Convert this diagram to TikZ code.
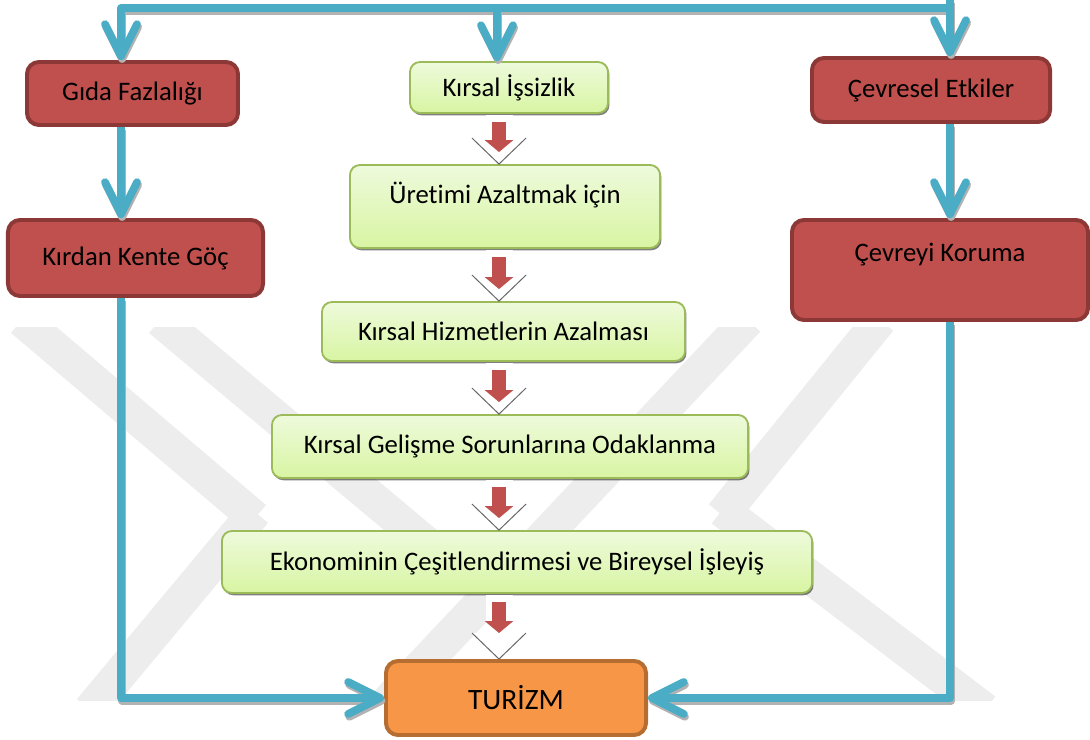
\documentclass[tikz,border=0pt]{standalone}
\usepackage{fontspec}
\setmainfont{Carlito}[Ligatures=NoCommon]
\usetikzlibrary{arrows.meta,shadows}

\definecolor{kirmizi}{HTML}{C0504D}
\definecolor{kirmizikenar}{HTML}{8C3836}
\definecolor{yesilkenar}{HTML}{9BBB59}
\definecolor{yesilust}{HTML}{EEFADC}
\definecolor{yesilalt}{HTML}{D8F5A2}
\definecolor{turuncu}{HTML}{F79646}
\definecolor{turuncukenar}{HTML}{B66D31}
\definecolor{mavi}{HTML}{4BACC6}

\tikzset{
  kutu/.style={rounded corners=0.3cm, align=center, inner sep=0pt,
    font=\fontsize{19}{23}\selectfont},
  kirmizikutu/.style={kutu, fill=kirmizi, draw=kirmizikenar, line width=2.8pt},
  yesilkutu/.style={kutu, rounded corners=0.25cm, top color=yesilust,
    bottom color=yesilalt, draw=yesilkenar, line width=1.3pt,
    drop shadow={shadow xshift=1pt, shadow yshift=-1.6pt, opacity=0.5, fill=black}},
  turuncukutu/.style={kutu, fill=turuncu, draw=turuncukenar, line width=2.8pt,
    font=\fontsize{21}{25}\selectfont},
  maviok/.style={draw=mavi, line width=5.5pt, line join=round,
    -{Straight Barb[round, length=0.8cm, width=0.8cm]}},
  maviokgolge/.style={maviok, draw=black!30,
    transform canvas={shift={(0.8pt,-2pt)}}},
  kirmiziok/.style={draw=kirmizi, line width=10pt,
    -{Triangle[length=0.3cm, width=0.7cm]}},
  beyazok/.style={draw=white, line width=0.675cm, shorten <=1pt},
  kenarcizgi/.style={draw=black!60, line width=0.7pt},
  filigran/.style={draw=black!7, line width=0.85cm}
}

\begin{document}
\begin{tikzpicture}[x=0.025cm, y=-0.025cm]
\useasboundingbox (0,0) rectangle (1090,740);

% filigran
\begin{scope}
\clip (0,328) rectangle (1090,700);
\draw[filigran] (22,320) -- (255,518);
\draw[filigran] (90,710) -- (255,512);
\draw[filigran] (160,320) -- (470,580);
\draw[filigran] (748,320) -- (380,710);
\draw[filigran] (880,320) -- (722,515);
\draw[filigran] (722,510) -- (985,710);
\end{scope}

% sol sutun
\node[kirmizikutu, minimum width=5.275cm, minimum height=1.575cm] (gida) at (132.5,93.5) {Gıda Fazlalığı};
\node[kirmizikutu, minimum width=6.375cm, minimum height=1.9cm] (kirdan) at (135.5,258) {Kırdan Kente Göç};

% orta sutun
\node[yesilkutu, minimum width=4.95cm, minimum height=1.275cm] (issizlik) at (509,87.5) {Kırsal İşsizlik};
\node[yesilkutu, minimum width=7.75cm, minimum height=2.075cm, text depth=20pt] (uretim) at (505,206.5) {Üretimi Azaltmak için};
\node[yesilkutu, minimum width=9.075cm, minimum height=1.475cm] (hizmet) at (503.5,331.5) {Kırsal Hizmetlerin Azalması};
\node[yesilkutu, minimum width=11.9cm, minimum height=1.575cm] (gelisme) at (510,446.5) {Kırsal Gelişme Sorunlarına Odaklanma};
\node[yesilkutu, minimum width=14.75cm, minimum height=1.55cm] (ekonomi) at (517,562) {Ekonominin Çeşitlendirmesi ve Bireysel İşleyiş};
\node[turuncukutu, minimum width=6.5cm, minimum height=1.85cm] (turizm) at (516,698) {TURİZM};

% sag sutun
\node[kirmizikutu, minimum width=5.95cm, minimum height=1.6cm] (cevresel) at (931,90) {Çevresel Etkiler};
\node[kirmizikutu, minimum width=7.4cm, minimum height=2.5cm, text depth=25pt] (koruma) at (940,270) {Çevreyi Koruma};

% kirmizi oklar
\coordinate (ox) at (499,0);
\foreach \a/\b/\k in {issizlik/uretim/0.3cm, uretim/hizmet/0.3cm, hizmet/gelisme/0.3cm,
                      gelisme/ekonomi/0.3cm, ekonomi/turizm/0.65cm}
{
    \draw[beyazok, shorten >=0.65cm] (\a.south -| ox) -- (\b.north -| ox);
    \fill[white] (\b.north -| ox) -- ++(-27,-26) -- ++(54,0) -- cycle;
    \draw[kenarcizgi] (\b.north -| ox) ++(-27,-26) -- ++(27,26) -- ++(27,-26);
    \draw[kirmiziok, shorten <=0.2cm, shorten >=\k] (\a.south -| ox) -- (\b.north -| ox);
}

% mavi oklar
\coordinate (sol) at (121,8);
\coordinate (orta) at (497,8);
\coordinate (sag) at (950,8);
\coordinate (sagust) at (950,0);
\foreach \stil in {maviokgolge, maviok}
{
    \draw[\stil] (sag) -- (sol) -- (sol |- gida.north);
    \draw[\stil] (orta) -- (orta |- issizlik.north);
    \draw[\stil] (sagust) -- (sag |- cevresel.north);
    \draw[\stil] (gida.south -| sol) -- (kirdan.north -| sol);
    \draw[\stil] (cevresel.south -| sag) -- (koruma.north -| sag);
    \draw[\stil] (kirdan.south -| sol) |- (turizm.west);
    \draw[\stil] (koruma.south -| sag) |- (turizm.east);
}

\end{tikzpicture}
\end{document}
